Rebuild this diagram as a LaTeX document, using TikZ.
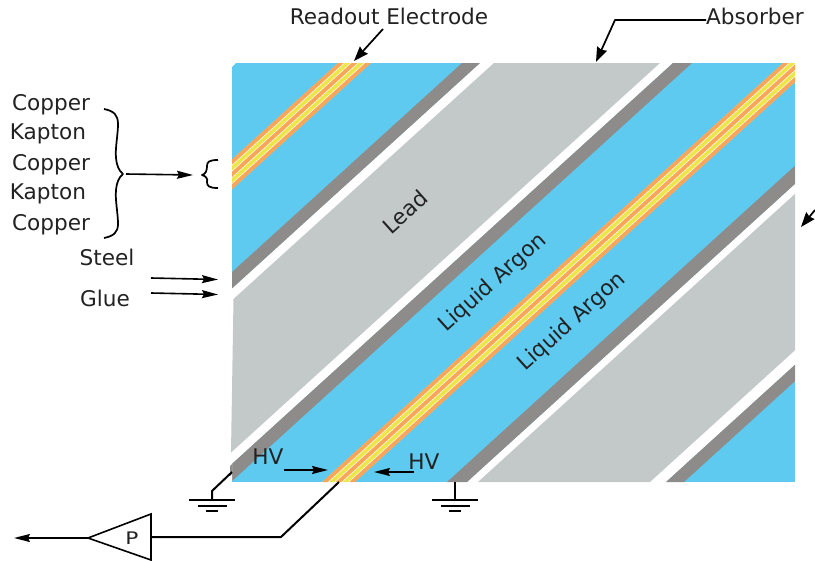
\documentclass[tikz,border=0pt]{standalone}
\usepackage{fontspec}
\setmainfont{DejaVu Sans}
\usetikzlibrary{arrows.meta}
\definecolor{argon}{HTML}{5FCAEF}
\definecolor{steel}{HTML}{8E8C8B}
\definecolor{leadc}{HTML}{C3C9C9}
\definecolor{copperc}{HTML}{F9A65A}
\definecolor{kaptonc}{HTML}{EBE64A}
\definecolor{ink}{HTML}{222222}
\newcommand{\band}[3]{\fill[#1] (#2,482) -- (#3,482) -- ({#3+461},63) -- ({#2+461},63) -- cycle;}
\newcommand{\stack}[1]{%
  \band{white}{#1+0.5}{#1+32.5}
  \band{copperc}{#1}{#1+5.8}
  \band{kaptonc}{#1+7}{#1+12.4}
  \band{copperc}{#1+13.6}{#1+19.4}
  \band{kaptonc}{#1+20.6}{#1+26}
  \band{copperc}{#1+27.2}{#1+33}
}
\tikzset{
  x=0.75pt, y=-0.75pt,
  lbl/.style={text=ink, font=\fontsize{16.2}{18}\selectfont, inner sep=0pt},
  rlbl/.style={lbl, rotate=42},
  wire/.style={draw=black, line width=1.5pt, line join=round},
  arr/.style={wire, line width=1.2pt, -{Stealth[length=12pt, width=6pt, inset=1.5pt]}},
  bigarr/.style={wire, line width=1.3pt, -{Stealth[length=11pt, width=8pt, inset=1pt]}},
  gbar/.style={draw=black, line width=1.5pt},
}
\begin{document}
\begin{tikzpicture}
\useasboundingbox (0,0) rectangle (815,561);
\begin{scope}
  \clip (236,63) -- (795,63) -- (795,482) -- (232,482) -- (232,67) -- cycle;
  \fill[argon] (232,63) rectangle (795,482);
  \stack{-123}
  \band{white}{19}{212}
  \band{steel}{1}{19}
  \band{steel}{212}{231}
  \stack{322}
  \band{white}{467}{666}
  \band{steel}{447}{467}
  \band{leadc}{478}{650}
  \band{steel}{666}{684}
\end{scope}
\fill[white] (231,298) -- (234,298) -- (232,482) -- (231,482) -- cycle;
\fill[leadc] (494,63) -- (660,63) -- (231,452.5) -- (233.5,299) -- cycle;
\fill[steel] (232,464) -- (230,466) -- (230,476) -- (232,474) -- cycle;

% labels
\node[lbl] (readout) at (389,16.5) {Readout Electrode};
\node[lbl] (absorber) at (755,16.5) {Absorber};
\node[lbl] (cu1) at (51,104.5) {Copper};
\node[lbl] (ka1) at (48,134) {Kapton};
\node[lbl] (cu2) at (51,164.5) {Copper};
\node[lbl] (ka2) at (48,194) {Kapton};
\node[lbl] (cu3) at (51,224.5) {Copper};
\node[lbl] (steellabel) at (107,257) {Steel};
\node[lbl] (gluelabel) at (105,298) {Glue};
\node[rlbl] (leadlabel) at (405,212) {Lead};
\node[rlbl] (la1) at (493,283) {Liquid Argon};
\node[rlbl] (la2) at (572,322) {Liquid Argon};
\node[lbl] (hv1) at (268,457) {HV};
\node[lbl] (hv2) at (424,461.5) {HV};

% free ends
\coordinate (roS) at (383,29);   \coordinate (roE) at (354,61);
\coordinate (abS) at (706,20);   \coordinate (abM) at (615,20);  \coordinate (abE) at (596,62);
\coordinate (brS) at (126,174);  \coordinate (brE) at (193,175);
\coordinate (stS) at (151,278);  \coordinate (stE) at (218,279.5);
\coordinate (glS) at (151,293);  \coordinate (glE) at (218,294.5);
\coordinate (hvaS) at (284,470); \coordinate (hvaE) at (328,470);
\coordinate (hvbS) at (414,472); \coordinate (hvbE) at (374,472);
\coordinate (edS) at (815,210);  \coordinate (edE) at (801,227);
\coordinate (outE) at (14,538);
\coordinate (wireA) at (281,537); \coordinate (wireB) at (339,482);
\coordinate (g1A) at (232,472);  \coordinate (g1B) at (212,491);  \coordinate (g1C) at (212,500);
\coordinate (g2A) at (455,482);  \coordinate (g2C) at (455,500);

\draw[bigarr] (roS) -- (roE);
\draw[bigarr] (abS) -- (abM) -- (abE);
\draw[arr] (brS) -- (brE);
\draw[arr] (stS) -- (stE);
\draw[arr] (glS) -- (glE);
\draw[arr] (hvaS) -- (hvaE);
\draw[arr] (hvbS) -- (hvbE);
\draw[bigarr] (edS) -- (edE);

% braces
\draw[wire, line width=1.3pt] (104,109) .. controls (114,111) and (118,115) .. (118,124)
  .. controls (118,135) and (115,148) .. (116,158) .. controls (116.5,165) and (119,171) .. (123,174)
  .. controls (119,177) and (116.5,183) .. (116,190) .. controls (115,200) and (118,213) .. (118,224)
  .. controls (118,232) and (114,236) .. (104,238);
\draw[wire, line width=1.3pt] (218,160) .. controls (209,160) and (207,162) .. (207,166)
  .. controls (207,170) and (206,174) .. (202,175)
  .. controls (206,176) and (208,179) .. (207,182)
  .. controls (207,186) and (209,188) .. (218,188);

% preamp
\coordinate (triA) at (88,538); \coordinate (triB) at (151,514); \coordinate (triC) at (151,560); \coordinate (triOut) at (151,537);
\draw[black, line width=1.2pt, line join=miter] (triA) -- (triB) -- (triC) -- cycle;
\node[text=ink, font=\fontsize{13}{15}\selectfont, inner sep=0pt, xscale=1.25] (plabel) at (132,538) {P};
\draw[wire] (triOut) -- (wireA) -- (wireB);
\draw[arr] (triA) -- (outE);

% grounds
\draw[wire] (g1A) -- (g1B) -- (g1C);
\draw[gbar] (189,500) -- (235,500) (198,506) -- (227,506) (206,511) -- (218,511);
\draw[wire] (g2A) -- (g2C);
\draw[gbar] (432,500) -- (478,500) (441,506) -- (470,506) (449,511) -- (461,511);
\end{tikzpicture}
\end{document}
